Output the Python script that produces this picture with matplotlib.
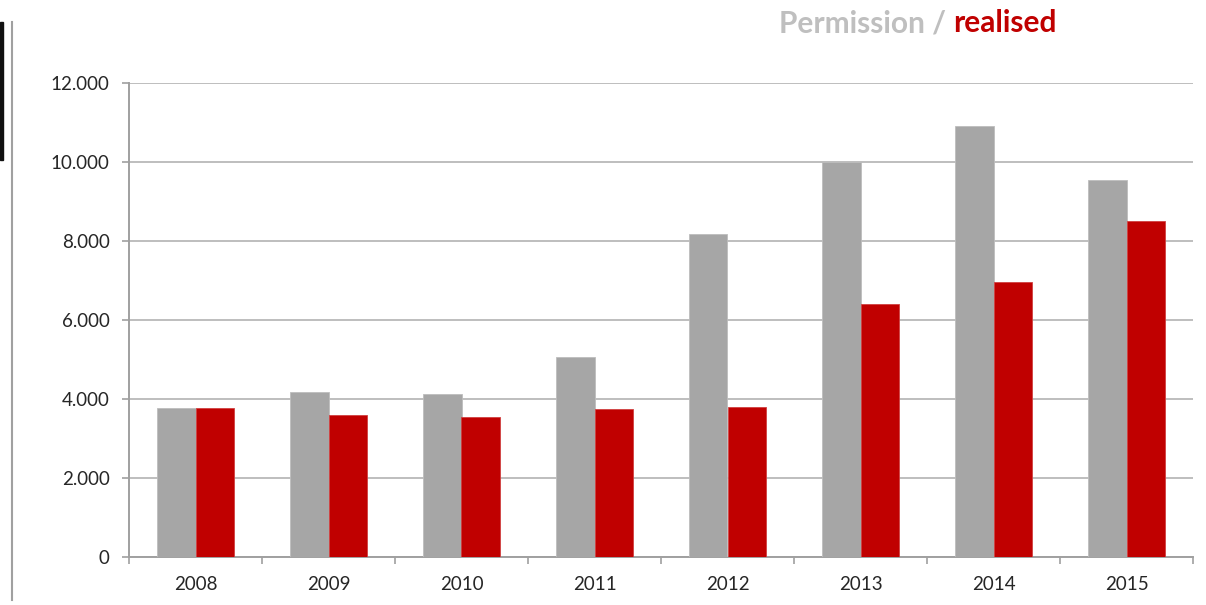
import matplotlib
matplotlib.use("Agg")
import matplotlib.pyplot as plt
from matplotlib.ticker import FuncFormatter, FixedLocator
from matplotlib.lines import Line2D
from matplotlib.patches import Rectangle
import numpy as np

plt.rcParams['font.family'] = ['Lato', 'DejaVu Sans']

years = ['2008', '2009', '2010', '2011', '2012', '2013', '2014', '2015']
permission = [3770, 4180, 4130, 5060, 8180, 10000, 10910, 9540]
realised = [3770, 3590, 3540, 3750, 3800, 6400, 6960, 8510]

W, H = 1206, 605
fig = plt.figure(figsize=(W / 100, H / 100), dpi=100)
ax = fig.add_axes([129 / W, 1 - 557 / H, (1193 - 129) / W, (557 - 83) / H])

x = np.arange(len(years))
bw = 0.286
ax.bar(x - bw / 2, permission, width=bw, color='#A6A6A6',
       edgecolor='#BDBDBD', linewidth=0.6, zorder=3)
ax.bar(x + bw / 2, realised, width=bw, color='#C00000',
       edgecolor='#D04040', linewidth=0.6, zorder=3)

ax.set_xlim(-0.5, len(years) - 0.5)
ax.set_ylim(0, 12000)
ax.set_yticks(range(0, 12001, 2000))
ax.yaxis.set_major_formatter(
    FuncFormatter(lambda v, p: f"{int(v):,}".replace(',', '.')))
ax.yaxis.grid(True, color='#BEBEBE', linewidth=1.4, zorder=0)

# year labels centred, tick marks on category boundaries
ax.set_xticks(x)
ax.set_xticklabels(years)
ax.tick_params(axis='x', length=0, pad=14, labelsize=13.5, labelcolor='#262626')
ax.xaxis.set_minor_locator(FixedLocator(np.arange(-0.5, len(years), 1)))
ax.tick_params(axis='x', which='minor', length=5, color='#A0A0A0', width=1.2)
ax.tick_params(axis='y', length=5, color='#A0A0A0', width=1.2, pad=9,
               labelsize=13.5, labelcolor='#262626')

for s in ['top', 'right']:
    ax.spines[s].set_visible(False)
for s in ['left', 'bottom']:
    ax.spines[s].set_color('#A0A0A0')
    ax.spines[s].set_linewidth(1.4)

# title in two colours
t2 = fig.text(1057 / W, 1 - 23 / H, 'realised', color='#C00000',
              fontsize=21.5, fontweight='bold', ha='right', va='center')
fig.canvas.draw()
bb = t2.get_window_extent()
fig.text(bb.x0 / W, 1 - 23 / H, 'Permission / ', color='#BFBFBF',
         fontsize=21.5, fontweight='bold', ha='right', va='center')

# slide frame remnants on the left
fig.add_artist(Rectangle((0, 1 - 160 / H), 3 / W, 138 / H,
                         transform=fig.transFigure, color='#111111'))
fig.add_artist(Line2D([12 / W, 12 / W], [1 - 600 / H, 1 - 22 / H],
                      transform=fig.transFigure, color='#A0A0A0',
                      linewidth=1.5))

fig.savefig('out.png', dpi=100)
